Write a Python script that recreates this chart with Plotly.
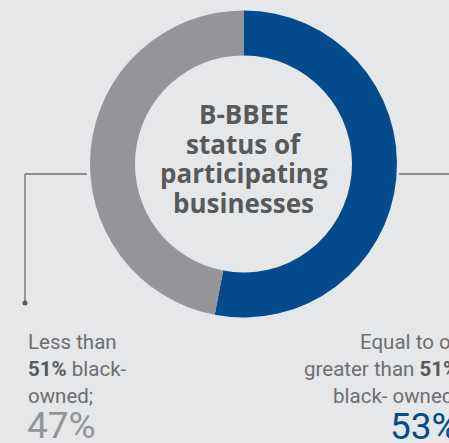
import plotly.graph_objects as go

W, H = 449, 443

categories = ["Equal to or greater than 51% black- owned", "Less than 51% black-owned"]
values = [53, 47]
colors = ["#034b8c", "#939598"]
center_title = ["B-BBEE", "status of", "participating", "businesses"]
left_lines = ["Less than", "<b>51%</b> black-", "owned;"]
right_lines = ["Equal to or", "greater than <b>51%</b>", "black- owned;"]

def px(x):
    return x / W

def py(y):
    return 1 - y / H

cx, cy, r = 243.5, 164, 153.5

fig = go.Figure(go.Pie(
    labels=categories,
    values=values,
    marker=dict(colors=colors, line=dict(width=0)),
    hole=0.707,
    sort=False,
    direction="clockwise",
    rotation=0,
    textinfo="none",
    hoverinfo="none",
    showlegend=False,
    domain=dict(x=[px(cx - r), px(cx + r)], y=[py(cy + r), py(cy - r)]),
))

line_col = "#6d6e71"
fig.update_layout(
    width=W, height=H,
    margin=dict(l=0, r=0, t=0, b=0),
    paper_bgcolor="#e6e7e8",
    plot_bgcolor="#e6e7e8",
    shapes=[
        dict(type="line", xref="paper", yref="paper", x0=px(25), x1=px(87), y0=py(174), y1=py(174),
             line=dict(color=line_col, width=1.3)),
        dict(type="line", xref="paper", yref="paper", x0=px(25), x1=px(25), y0=py(174), y1=py(303),
             line=dict(color=line_col, width=1.3)),
        dict(type="circle", xref="paper", yref="paper", x0=px(22.5), x1=px(27.5), y0=py(305.5), y1=py(300.5),
             fillcolor="#58595b", line=dict(width=0)),
        dict(type="line", xref="paper", yref="paper", x0=px(399), x1=px(449), y0=py(174), y1=py(174),
             line=dict(color=line_col, width=1.3)),
    ],
)

bold_col = "#58595b"
def fmt(line):
    return line.replace("<b>", f"<b><span style='color:{bold_col}'>").replace("</b>", "</span></b>")

annotations = []
def add(text, x, ymid, anchor, size, color, family="Roboto"):
    annotations.append(dict(text=text, x=px(x), y=py(ymid), xref="paper", yref="paper",
                            showarrow=False, xanchor=anchor, yanchor="middle", align=anchor,
                            font=dict(family=family, size=size, color=color)))

# centre title
for i, t in enumerate(center_title):
    add("<b>" + t + "</b>", cx, 114 + i * 29.7, "center", 26, "#58595b", "Open Sans")

# label blocks
TS = 20.5
for i, t in enumerate(left_lines):
    add(fmt(t), 26, 341.5 + i * 27.4, "left", TS, "#6d6e71")
for i, t in enumerate(right_lines):
    add(fmt(t), 460, 341.5 + i * 27.4, "right", TS, "#6d6e71")

PS = 37
add(f"{values[1]}%", 25, 438.5 - 0.34 * PS, "left", PS, colors[1])
add(f"{values[0]}%", 461, 439.5 - 0.34 * PS, "right", PS, colors[0])

fig.update_layout(annotations=annotations)

fig.write_html(
    "out.html",
    config=dict(displayModeBar=False, responsive=False),
    post_script="document.body.style.margin='0';document.body.style.overflow='hidden';",
)
